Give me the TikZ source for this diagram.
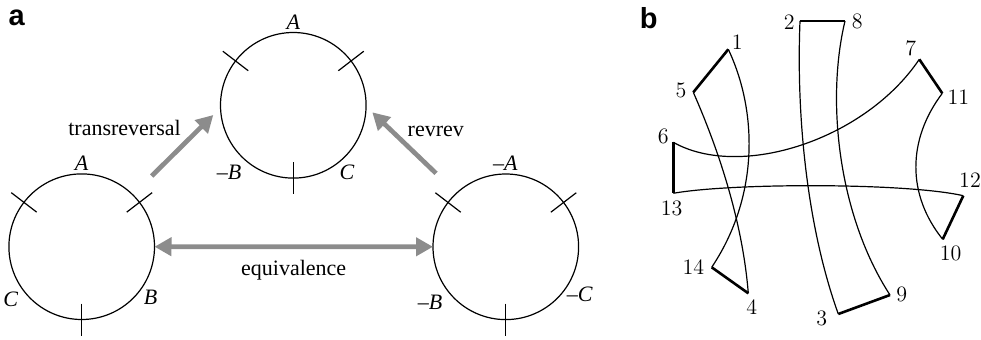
\documentclass[tikz,border=0pt]{standalone}
\usepackage{fontspec}
\usepackage{tikz}
\usetikzlibrary{arrows.meta, positioning, calc}

\newfontfamily\tms{Liberation Serif}
\newfontfamily\hlv{Liberation Sans}

\tikzset{
  ring/.style={circle, draw, line width=0.6pt, minimum size=72.8pt, inner sep=0pt, outer sep=0pt},
  notch/.style={line width=0.6pt},
  lbl/.style={font=\tms\itshape\fontsize{11}{13}\selectfont, inner sep=0pt},
  word/.style={font=\tms\fontsize{11}{13}\selectfont, anchor=base, inner sep=0pt},
  op/.style={draw=black!45, line width=2.35pt, ->},
  panel/.style={font=\hlv\bfseries\fontsize{14.5}{16}\selectfont, inner sep=0pt},
  num/.style={font=\fontsize{11}{13}\selectfont, inner sep=0pt},
  rim/.style={line width=0.6pt},
  seg/.style={line width=1.3pt}
}

\begin{document}
\begin{tikzpicture}[x=0.5pt, y=0.5pt, >={Triangle[length=8.5pt, width=9pt]}]
    \useasboundingbox (0,0) rectangle (981,339);

    % three circles with their cut marks
    \node[panel] (la) at (16.7,321.5) {a};
    \node[ring] (tc) at (293.3,233.7) {};
    \node[ring] (lc) at (81.7,92.3) {};
    \node[ring] (rc) at (505.8,92.2) {};

    \foreach \nd in {tc,lc,rc}
        \foreach \a in {37.5,142.5,270}
            \draw[notch] ($(\nd)+(\a:56.8)$) -- ($(\nd)+(\a:88.8)$);

    \node[lbl] (tA) at (293.3,316.5) {A};
    \node[lbl] (tB) at (229.2,166.7) {–B};
    \node[lbl] (tC) at (347,166.7) {C};
    \node[lbl] (lA) at (81.7,175.7) {A};
    \node[lbl] (lC) at (10.7,40) {C};
    \node[lbl] (lB) at (150.5,42) {B};
    \node[lbl] (rA) at (505.3,176) {–A};
    \node[lbl] (rB) at (430,36.7) {–B};
    \node[lbl] (rC) at (579.7,45) {–C};

    \draw[op] ($(lc.45)+(18.5,19.2)$) -- ($(tc.west)+(-7.2,-9.7)$);
    \draw[op] ($(rc.135)+(-18.3,22)$) -- ($(tc.east)+(6.2,-7)$);
    \draw[op, <->] (lc) -- (rc);

    \node[word] (tr) at (124.5,204) {transreversal};
    \node[word] (rr) at (435.8,203) {revrev};
    \node[word] (eq) at (293.7,63.5) {equivalence};

    % ribbon picture
    \node[panel] (lb) at (648.7,320.7) {b};

    \foreach \n/\x/\y in {1/728.3/289.7, 5/693.3/246.7, 6/673.3/196.7, 13/673.3/145.7,
                          14/711.7/71.7, 4/748.3/45.7, 2/800/318, 8/845/318, 3/838.3/25,
                          9/890/44, 7/919.3/279.7, 11/942.3/245.7, 12/963.3/143.3, 10/942.7/99.7}
        \coordinate (p\n) at (\x,\y);

    \foreach \n/\x/\y in {1/737.3/297.3, 5/681/249, 6/663.3/202.3, 13/671.7/130.7,
                          14/693.3/72.3, 4/751.7/31.7, 2/789.3/317.3, 8/857.3/317.3, 3/821.7/20.7,
                          9/901.7/44.7, 7/910.7/290.7, 11/958.3/241.7, 12/970/159, 10/950.7/85.7}
        \node[num] (n\n) at (\x,\y) {\n};

    \foreach \u/\v in {1/5, 6/13, 14/4, 2/8, 3/9, 7/11, 12/10}
        \draw[seg] (p\u) -- (p\v);

    \draw[rim] (p1) .. controls (757,229) and (760,144) .. (p14);
    \draw[rim] (p5) .. controls (719.7,186.7) and (742.7,115.7) .. (p4);
    \draw[rim] (p6) .. controls (740,159) and (865,199) .. (p7);
    \draw[rim] (p13) .. controls (730,156) and (905,156.5) .. (p12);
    \draw[rim] (p2) .. controls (796,219) and (808,109) .. (p3);
    \draw[rim] (p8) .. controls (826,239) and (838,124) .. (p9);
    \draw[rim] (p11) .. controls (907,199) and (907,144) .. (p10);
\end{tikzpicture}
\end{document}
